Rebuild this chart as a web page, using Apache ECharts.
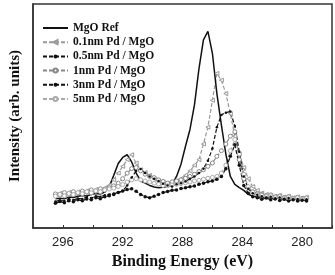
<!DOCTYPE html>
<html>
<head>
<meta charset="utf-8">
<script src="https://cdn.jsdelivr.net/npm/echarts@6/dist/echarts.min.js"></script>
<style>
  html, body { margin: 0; padding: 0; background: #fff; }
  #chart { width: 335px; height: 275px; }
</style>
</head>
<body>
<div id="chart"></div>
<script>
// binding energy (eV), shared by all spectra
const energies = [296.5, 296.2, 295.9, 295.6, 295.3, 295.0, 294.7, 294.4, 294.1, 293.8,
  293.5, 293.2, 292.9, 292.6, 292.3, 292.0, 291.7, 291.4, 291.1, 290.8,
  290.5, 290.2, 289.9, 289.6, 289.3, 289.0, 288.7, 288.4, 288.1, 287.8,
  287.5, 287.2, 286.9, 286.6, 286.3, 286.0, 285.7, 285.4, 285.1, 284.8,
  284.5, 284.2, 283.9, 283.6, 283.3, 283.0, 282.7, 282.4, 282.1, 281.8,
  281.5, 281.2, 280.9, 280.6, 280.3, 280.0, 279.7];

const mgoRef = [13.0, 13.3, 13.0, 13.8, 13.6, 14.2, 14.5, 14.3, 15.0, 15.4,
  15.2, 16.0, 18.5, 23.5, 28.8, 31.5, 32.7, 29.5, 24.5, 21.0,
  20.0, 19.0, 18.3, 18.0, 18.2, 18.5, 19.5, 23.0, 28.5, 36.5,
  44.0, 55.0, 71.0, 84.0, 87.8, 78.0, 60.0, 46.0, 33.0, 23.0,
  19.5, 18.0, 16.8, 15.0, 14.2, 14.0, 13.6, 13.9, 13.5, 13.2,
  13.6, 13.0, 13.3, 12.9, 13.1, 12.8, 12.9];

const pd01 = [14.8, 15.5, 14.6, 15.9, 15.2, 16.1, 15.7, 16.6, 16.0, 17.2,
  16.8, 17.9, 19.0, 21.5, 24.5, 27.5, 30.5, 32.7, 29.0, 26.0,
  24.8, 23.5, 22.0, 21.0, 20.5, 19.8, 20.5, 21.0, 22.0, 23.5,
  25.5, 28.0, 30.5, 37.5, 45.0, 57.0, 69.0, 66.0, 60.0, 51.0,
  41.0, 33.0, 27.0, 22.0, 18.5, 16.8, 15.6, 15.0, 14.6, 14.2,
  14.5, 13.8, 14.1, 13.5, 13.9, 13.4, 13.6];

const pd05 = [11.8, 12.4, 12.0, 12.9, 12.5, 13.2, 13.0, 13.8, 13.4, 14.2,
  14.0, 14.6, 15.0, 15.4, 15.8, 16.5, 19.0, 22.5, 25.5, 26.3,
  24.5, 23.0, 22.0, 21.0, 19.8, 19.0, 18.5, 19.5, 20.0, 20.8,
  22.0, 23.0, 24.5, 26.5, 30.0, 35.5, 45.0, 50.5, 51.5, 52.0,
  45.5, 34.0, 23.0, 17.5, 15.5, 14.8, 14.2, 13.5, 14.0, 13.2,
  13.6, 12.9, 13.4, 12.7, 13.0, 12.5, 12.8];

const pd1 = [15.2, 14.6, 15.8, 15.0, 16.2, 15.6, 16.5, 16.0, 17.0, 16.4,
  17.5, 17.0, 18.0, 18.8, 20.0, 22.0, 24.5, 26.5, 27.0, 25.5,
  24.0, 23.0, 22.5, 21.5, 20.8, 20.0, 20.6, 21.0, 21.5, 22.2,
  23.0, 24.0, 25.2, 26.0, 27.5, 29.0, 32.0, 34.5, 37.5, 41.0,
  43.0, 30.5, 22.0, 18.0, 16.2, 15.4, 15.0, 14.4, 14.8, 13.9,
  14.3, 13.6, 14.0, 13.3, 13.7, 13.2, 13.5];

const pd3 = [11.0, 11.8, 11.3, 12.2, 11.7, 12.6, 12.2, 13.0, 12.6, 13.5,
  13.1, 14.0, 14.4, 15.0, 15.8, 16.5, 17.2, 17.5, 16.4, 15.0,
  14.0, 13.5, 14.2, 15.0, 15.8, 16.3, 16.8, 17.0, 17.6, 18.0,
  18.4, 18.8, 19.5, 20.0, 20.6, 21.0, 21.8, 23.0, 26.5, 32.0,
  37.2, 28.0, 19.0, 15.5, 14.0, 13.5, 12.8, 13.4, 12.6, 13.0,
  12.3, 12.8, 12.1, 12.6, 12.0, 12.4, 12.1];

const pd5 = [14.2, 15.0, 14.4, 15.4, 14.9, 15.8, 15.3, 16.2, 15.7, 16.6,
  16.2, 17.0, 17.4, 17.8, 18.5, 19.4, 20.5, 21.5, 22.0, 21.5,
  21.0, 20.5, 20.0, 19.6, 19.0, 18.8, 19.2, 19.5, 19.8, 20.2,
  20.5, 21.0, 21.3, 21.8, 22.2, 22.6, 23.0, 24.5, 28.0, 34.5,
  39.5, 33.0, 24.0, 18.5, 16.0, 15.0, 14.5, 14.0, 14.4, 13.6,
  14.0, 13.3, 13.8, 13.0, 13.5, 12.9, 13.2];

const tickLabels = [296, 292, 288, 284, 280];

const pair = (ys) => energies.map((e, i) => [e, ys[i]]);

const serif = 'Liberation Serif';

const chart = echarts.init(document.getElementById('chart'));

const dashed = (color) => ({ color: color, width: 1.2, type: [4, 2] });

chart.setOption({
  animation: false,
  backgroundColor: '#fff',
  grid: {
    left: 30, right: 2, top: 4, bottom: 44,
    show: true, borderColor: '#333', borderWidth: 1.5
  },
  legend: {
    orient: 'vertical',
    left: 37, top: 17,
    itemWidth: 25, itemHeight: 5, itemGap: 2.2,
    textStyle: { fontFamily: serif, fontWeight: 'bold', fontSize: 11.5, color: '#111' },
    data: [
      { name: 'MgO Ref', itemStyle: { opacity: 0 } },
      '0.1nm Pd / MgO', '0.5nm Pd / MgO', '1nm Pd / MgO', '3nm Pd / MgO', '5nm Pd / MgO'
    ]
  },
  xAxis: {
    type: 'value',
    inverse: true,
    min: 278, max: 298, interval: 2,
    name: 'Binding Energy (eV)',
    nameLocation: 'middle',
    nameGap: 26,
    nameTextStyle: { fontFamily: serif, fontWeight: 'bold', fontSize: 16, color: '#111' },
    axisLine: { lineStyle: { color: '#333', width: 1.5 } },
    axisTick: { inside: true, length: 3, lineStyle: { color: '#333' } },
    axisLabel: {
      margin: 8, fontFamily: 'Liberation Sans', fontSize: 13, color: '#222',
      formatter: (v) => tickLabels.includes(v) ? String(v) : ''
    },
    splitLine: { show: false }
  },
  yAxis: {
    type: 'value',
    min: 0, max: 100,
    name: 'Intensity (arb. units)',
    nameLocation: 'middle',
    nameGap: 10,
    nameTextStyle: { fontFamily: serif, fontWeight: 'bold', fontSize: 15, color: '#111' },
    axisLine: { lineStyle: { color: '#333', width: 1.5 } },
    axisTick: { show: false },
    axisLabel: { show: false },
    splitLine: { show: false }
  },
  series: [
    {
      name: '0.1nm Pd / MgO', type: 'line', data: pair(pd01),
      symbol: 'triangle', symbolRotate: 90, symbolSize: 4, showAllSymbol: true,
      lineStyle: dashed('#999'),
      itemStyle: { color: '#fff', borderColor: '#999', borderWidth: 1 }
    },
    {
      name: '1nm Pd / MgO', type: 'line', data: pair(pd1),
      symbol: 'circle', symbolSize: 4, showAllSymbol: true,
      lineStyle: dashed('#888'),
      itemStyle: { color: '#fff', borderColor: '#888', borderWidth: 1 }
    },
    {
      name: '5nm Pd / MgO', type: 'line', data: pair(pd5),
      symbol: 'circle', symbolSize: 4, showAllSymbol: true,
      lineStyle: dashed('#aaa'),
      itemStyle: { color: '#fff', borderColor: '#aaa', borderWidth: 1 }
    },
    {
      name: '0.5nm Pd / MgO', type: 'line', data: pair(pd05),
      symbol: 'circle', symbolSize: 2.5, showAllSymbol: true,
      lineStyle: dashed('#111'),
      itemStyle: { color: '#111', borderColor: '#111', borderWidth: 0 }
    },
    {
      name: '3nm Pd / MgO', type: 'line', data: pair(pd3),
      symbol: 'circle', symbolSize: 3.5, showAllSymbol: true,
      lineStyle: dashed('#111'),
      itemStyle: { color: '#111', borderColor: '#111', borderWidth: 0 }
    },
    {
      name: 'MgO Ref', type: 'line', data: pair(mgoRef),
      symbol: 'none',
      lineStyle: { color: '#111', width: 1.5 },
      itemStyle: { color: '#111' }
    }
  ]
});
</script>
</body>
</html>
